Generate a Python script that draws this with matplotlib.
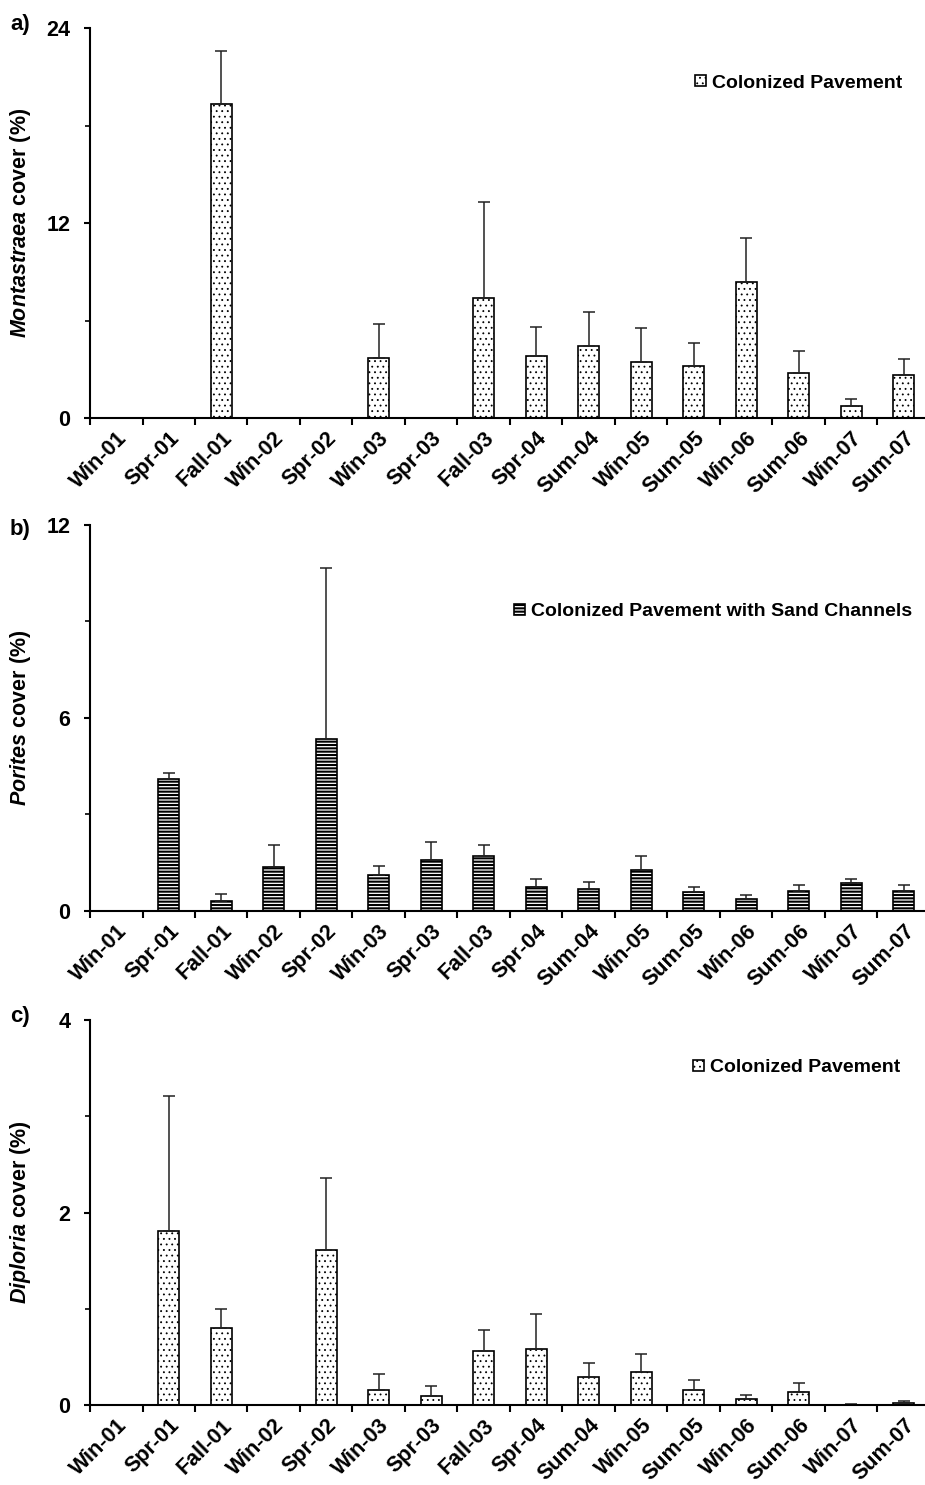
import numpy as np
import matplotlib
matplotlib.use('Agg')
import matplotlib.pyplot as plt
from matplotlib.ticker import FixedLocator

plt.rcParams['font.family'] = ['Liberation Sans', 'DejaVu Sans']
plt.rcParams['font.weight'] = 'bold'
plt.rcParams['mathtext.fontset'] = 'custom'
plt.rcParams['mathtext.it'] = 'Liberation Sans:italic:bold'
plt.rcParams['mathtext.rm'] = 'Liberation Sans:bold'

seasons = ['Win-01', 'Spr-01', 'Fall-01', 'Win-02', 'Spr-02', 'Win-03', 'Spr-03', 'Fall-03',
           'Spr-04', 'Sum-04', 'Win-05', 'Sum-05', 'Win-06', 'Sum-06', 'Win-07', 'Sum-07']

# mean cover (%) and standard error
montastraea_mean = [0, 0, 19.3, 0, 0, 3.7, 0, 7.4, 3.8, 4.45, 3.45, 3.2, 8.35, 2.75, 0.75, 2.65]
montastraea_se = [0, 0, 3.3, 0, 0, 2.1, 0, 5.9, 1.8, 2.05, 2.1, 1.4, 2.7, 1.4, 0.4, 1.0]

porites_mean = [0, 4.1, 0.3, 1.38, 5.33, 1.11, 1.59, 1.72, 0.74, 0.69, 1.27, 0.58, 0.38, 0.62, 0.86, 0.63]
porites_se = [0, 0.19, 0.24, 0.66, 5.33, 0.30, 0.55, 0.32, 0.27, 0.20, 0.43, 0.16, 0.11, 0.18, 0.15, 0.19]

diploria_mean = [0, 1.81, 0.80, 0, 1.61, 0.16, 0.10, 0.56, 0.58, 0.29, 0.35, 0.16, 0.06, 0.135, 0.005, 0.02]
diploria_se = [0, 1.40, 0.20, 0, 0.75, 0.16, 0.10, 0.22, 0.37, 0.15, 0.18, 0.10, 0.05, 0.095, 0.005, 0.02]

panels = [
    # letter, genus, mean, se, ymax, hatch, hatch lw, legend text, axes rect, legend anchor, letter pos
    ('a)', 'Montastraea', montastraea_mean, montastraea_se, 24, '...', 0.6, 'Colonized Pavement',
     [0.0973, 0.7185, 0.9027, 0.2626], (0.975, 1 - 83 / 1485), (10 / 925, 1 - 30 / 1485)),
    ('b)', 'Porites', porites_mean, porites_se, 12, '-----', 1.5, 'Colonized Pavement with Sand Channels',
     [0.0973, 0.3865, 0.9027, 0.2601], (0.986, 1 - 612 / 1485), (10 / 925, 1 - 535 / 1485)),
    ('c)', 'Diploria', diploria_mean, diploria_se, 4, '...', 0.6, 'Colonized Pavement',
     [0.0973, 0.0537, 0.9027, 0.2595], (0.973, 1 - 1068 / 1485), (10 / 925, 1 - 1022 / 1485)),
]

fig = plt.figure(figsize=(9.25, 14.85), dpi=100)
x = np.arange(len(seasons))

for letter, genus, mean, se, ymax, hatch, hlw, leg_text, rect, leg_pos, let_pos in panels:
    plt.rcParams['hatch.linewidth'] = hlw
    ax = fig.add_axes(rect)
    mean = np.array(mean)
    se = np.array(se)
    bars = ax.bar(x, mean, width=0.4, color='white', edgecolor='black',
                  linewidth=1.2, hatch=hatch, label=leg_text, zorder=2)
    for p in bars:
        try:
            p.set_hatch_linewidth(hlw)
        except AttributeError:
            pass
    has = mean > 0
    ax.errorbar(x[has], mean[has], yerr=[np.zeros(has.sum()), se[has]], fmt='none',
                ecolor='#222222', elinewidth=1.1, capsize=4.5, capthick=1.1, zorder=3)

    ax.set_xlim(-0.5, 15.405)
    ax.set_ylim(0, ymax)
    ax.spines['top'].set_visible(False)
    ax.spines['right'].set_visible(False)
    ax.spines['left'].set_linewidth(1.5)
    ax.spines['bottom'].set_linewidth(1.5)
    ax.spines['bottom'].set_zorder(4)

    ax.set_yticks([0, ymax / 2, ymax])
    ax.set_yticklabels(['0', '%g' % (ymax / 2), '%g' % ymax])
    ax.yaxis.set_minor_locator(FixedLocator([ymax / 4, ymax * 3 / 4]))
    ax.tick_params(axis='y', which='major', direction='out', length=4, width=1.5,
                   pad=10, labelsize=15.5)
    ax.tick_params(axis='y', which='minor', direction='out', length=3.5, width=1.2)

    ax.set_xticks(x)
    ax.set_xticklabels(seasons, rotation=45, ha='right', va='top', rotation_mode='anchor')
    ax.xaxis.set_minor_locator(FixedLocator(np.arange(-0.5, 15.6, 1.0)))
    ax.tick_params(axis='x', which='major', length=0, pad=7, labelsize=15.5)
    ax.tick_params(axis='x', which='minor', direction='out', length=5, width=1.5)

    ax.set_ylabel('$\\mathit{%s}$ cover (%%)' % genus, fontsize=15.5, fontweight='bold')
    ax.yaxis.set_label_coords(-0.068, 0.5)

    ax.legend(handles=[bars], loc='center right', bbox_to_anchor=leg_pos,
              bbox_transform=fig.transFigure, frameon=False, fontsize=14,
              handlelength=0.55, handleheight=0.55, handletextpad=0.3,
              borderpad=0, borderaxespad=0)

    fig.text(let_pos[0], let_pos[1], letter, fontsize=16, fontweight='bold', va='baseline')

fig.savefig('out.png', dpi=100)
